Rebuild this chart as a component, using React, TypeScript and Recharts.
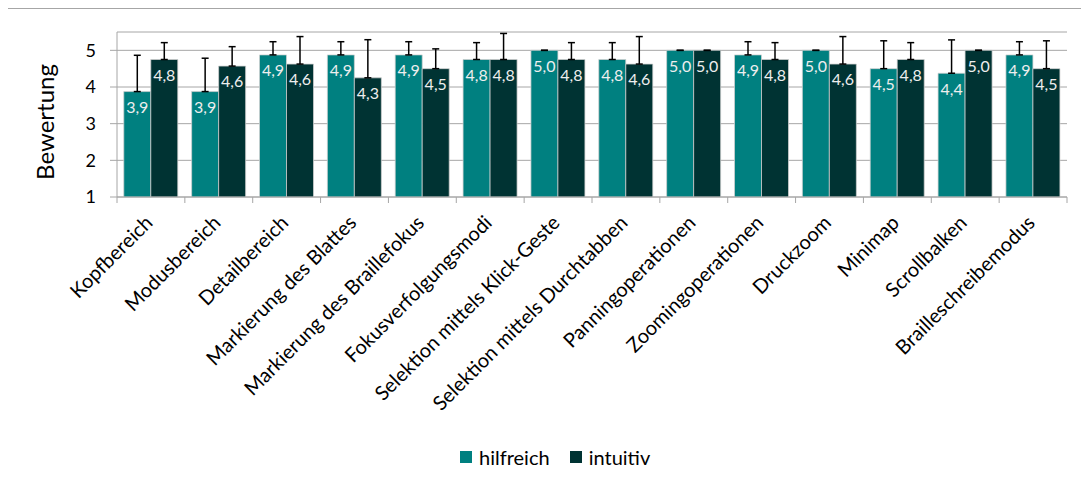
import { Bar, BarChart, CartesianGrid, ErrorBar, LabelList, XAxis, YAxis } from "recharts";

const categories = [
    "Kopfbereich",
    "Modusbereich",
    "Detailbereich",
    "Markierung des Blattes",
    "Markierung des Braillefokus",
    "Fokusverfolgungsmodi",
    "Selektion mittels Klick-Geste",
    "Selektion mittels Durchtabben",
    "Panningoperationen",
    "Zoomingoperationen",
    "Druckzoom",
    "Minimap",
    "Scrollbalken",
    "Brailleschreibemodus",
];
const hilfreich = [3.875, 3.875, 4.875, 4.875, 4.875, 4.75, 5, 4.75, 5, 4.875, 5, 4.5, 4.375, 4.875];
const intuitiv = [4.75, 4.57, 4.625, 4.25, 4.5, 4.75, 4.75, 4.625, 5, 4.75, 4.625, 4.75, 5, 4.5];
// only the upper whisker is drawn in the original
const hilfreichSd = [0.99, 0.91, 0.36, 0.36, 0.36, 0.46, 0, 0.46, 0, 0.36, 0, 0.76, 0.91, 0.36];
const intuitivSd = [0.46, 0.53, 0.75, 1.04, 0.54, 0.71, 0.46, 0.75, 0, 0.46, 0.75, 0.46, 0, 0.76];
const yTicks = [1, 2, 3, 4, 5];

const data = categories.map((name, i) => ({
    name,
    hilfreich: hilfreich[i],
    intuitiv: intuitiv[i],
    hErr: [0, hilfreichSd[i]],
    iErr: [0, intuitivSd[i]],
}));

const W = 1081;
const H = 465;
const margin = { top: 24, right: 22, left: 49, bottom: 76 };
const yAxisWidth = 60;
const plotW = W - margin.left - margin.right - yAxisWidth;
const halfBand = plotW / categories.length / 2;
const gray = "#a6a6a6";
const teal = "#008080";
const dark = "#003333";
const font = "Lato, 'Liberation Sans', sans-serif";

const fmt = (v: number) => v.toFixed(1).replace(".", ",");

const CategoryTick = (props: any) => {
    const { x, y, payload, index } = props;
    const axisY = y - 8;
    const tx = x + 3;
    const ty = y + 19;
    return (
        <g>
            <line x1={x - halfBand} y1={axisY} x2={x - halfBand} y2={axisY + 6} stroke={gray} />
            {index === categories.length - 1 && <line x1={x + halfBand} y1={axisY} x2={x + halfBand} y2={axisY + 6} stroke={gray} />}
            <text x={tx} y={ty} transform={`rotate(-45, ${tx}, ${ty})`} textAnchor="end" fontSize={20} fill="#000" fontFamily={font}>
                {payload.value}
            </text>
        </g>
    );
};

export default function App() {
    return (
        <div style={{ position: "relative", width: W, height: H, fontFamily: font }}>
            <div style={{ position: "absolute", left: -1, top: 0, width: W + 1, height: H, borderTop: `1px solid ${gray}`, borderLeft: `1px solid ${gray}`, boxSizing: "border-box", pointerEvents: "none" }} />
            <div
                style={{
                    position: "absolute",
                    left: 36,
                    top: 114,
                    transform: "translate(-50%, -50%) rotate(-90deg)",
                    fontSize: 24,
                    color: "#000",
                    whiteSpace: "nowrap",
                }}
            >
                Bewertung
            </div>
            <BarChart width={W} height={H} data={data} margin={margin} barCategoryGap="10%" barGap={0}>
                <CartesianGrid horizontal={true} vertical={false} stroke={gray} />
                <XAxis dataKey="name" interval={0} height={200} tickLine={false} axisLine={{ stroke: gray }} tick={<CategoryTick />} />
                <YAxis
                    width={yAxisWidth}
                    type="number"
                    domain={[1, 5.5]}
                    ticks={yTicks}
                    allowDataOverflow
                    axisLine={{ stroke: gray }}
                    tickLine={{ stroke: gray }}
                    tickSize={7}
                    tickMargin={14}
                    tick={{ fill: "#000", fontSize: 18, fontFamily: font }}
                />
                <Bar dataKey="hilfreich" fill={teal} stroke="#d0d0d0" strokeWidth={0.75} isAnimationActive={false}>
                    <ErrorBar dataKey="hErr" width={3.5} stroke="#000" strokeWidth={1.5} direction="y" />
                    <LabelList dataKey="hilfreich" position="insideTop" offset={10} fill="#eeeeee" fontSize={16} fontFamily={font} formatter={(v: any) => fmt(Number(v))} />
                </Bar>
                <Bar dataKey="intuitiv" fill={dark} stroke="#d0d0d0" strokeWidth={0.75} isAnimationActive={false}>
                    <ErrorBar dataKey="iErr" width={3.5} stroke="#000" strokeWidth={1.5} direction="y" />
                    <LabelList dataKey="intuitiv" position="insideTop" offset={10} fill="#eeeeee" fontSize={16} fontFamily={font} formatter={(v: any) => fmt(Number(v))} />
                </Bar>
            </BarChart>
            <div style={{ position: "absolute", left: 452, top: 437, display: "flex", alignItems: "center", fontSize: 20, lineHeight: "24px", color: "#000" }}>
                <span style={{ display: "inline-block", width: 12, height: 12, background: teal, marginRight: 7 }} />
                <span style={{ marginRight: 20 }}>hilfreich</span>
                <span style={{ display: "inline-block", width: 12, height: 12, background: dark, marginRight: 7 }} />
                <span>intuitiv</span>
            </div>
        </div>
    );
}
